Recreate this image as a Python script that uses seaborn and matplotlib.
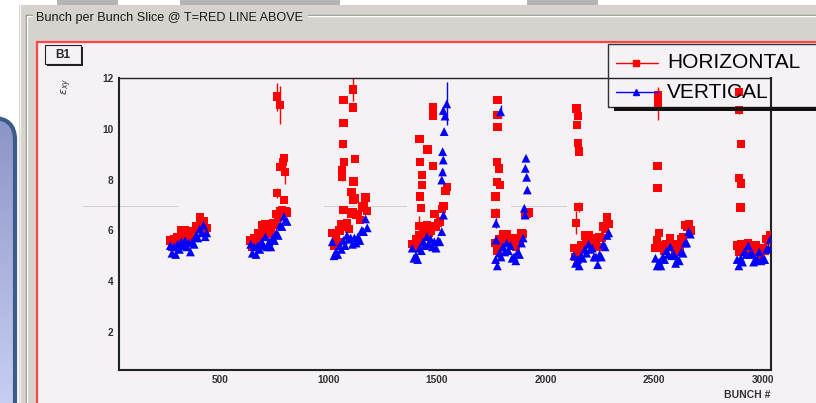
import numpy as np
import pandas as pd
import matplotlib
matplotlib.use("Agg")
import matplotlib.pyplot as plt
from matplotlib.patches import Rectangle, FancyBboxPatch
from matplotlib.lines import Line2D
from matplotlib.colors import LinearSegmentedColormap
from matplotlib.ticker import MultipleLocator
import seaborn as sns

# ---- data (bunch number, emittance) ----
t1_x = [272, 280, 289, 297, 306, 314, 323, 331, 340, 348, 357, 365, 374, 382, 391, 399, 408, 416, 425, 433, 440]
t1_h = [5.6, 5.35, 5.65, 5.4, 5.75, 5.6, 6.0, 5.75, 6.0, 5.7, 5.85, 5.6, 5.95, 5.9, 6.15, 6.05, 6.5, 6.25, 6.35, 6.0, 6.1]
t1_v = [5.4, 5.1, 5.35, 5.05, 5.45, 5.25, 5.55, 5.4, 5.6, 5.35, 5.5, 5.15, 5.55, 5.45, 5.8, 5.7, 6.05, 5.9, 6.2, 5.75, 5.9]

t2_x = [642, 650, 659, 667, 676, 684, 693, 701, 710, 718, 727, 735, 744, 752, 761, 769, 778, 786, 795, 803, 810]
t2_h = [5.6, 5.35, 5.7, 5.55, 5.9, 5.75, 6.2, 6.05, 6.25, 5.85, 6.05, 5.9, 6.3, 6.2, 6.65, 6.5, 6.75, 6.8, 7.2, 6.75, 6.7]
t2_v = [5.45, 5.1, 5.35, 5.05, 5.4, 5.25, 5.55, 5.4, 5.75, 5.35, 5.55, 5.35, 5.7, 5.6, 5.9, 5.8, 6.2, 6.15, 6.55, 6.4, 6.35]

t3_x = [1018, 1026, 1035, 1043, 1052, 1060, 1069, 1077, 1086, 1094, 1103, 1111, 1120, 1128, 1137, 1145, 1154, 1162, 1171, 1179]
t3_h = [5.9, 5.4, 5.7, 5.55, 6.0, 6.25, 6.8, 6.15, 6.3, 6.05, 6.65, 6.7, 7.25, 6.6, 6.65, 6.4, 6.9, 6.95, 7.3, 6.75]
t3_v = [5.55, 5.0, 5.15, 5.05, 5.4, 5.25, 5.6, 5.4, 5.8, 5.65, 5.7, 5.45, 5.7, 5.5, 5.75, 5.6, 6.0, 5.95, 6.45, 6.1]

t4_x = [1386, 1394, 1403, 1411, 1420, 1428, 1437, 1445, 1454, 1462, 1471, 1479, 1488, 1496, 1505, 1513, 1522, 1530, 1539, 1547]
t4_h = [5.45, 5.3, 5.65, 5.4, 5.8, 5.6, 6.0, 5.85, 6.2, 5.9, 6.0, 6.15, 6.65, 6.15, 6.3, 6.35, 6.85, 6.95, 7.55, 7.7]
t4_v = [5.3, 4.9, 5.0, 4.85, 5.3, 5.2, 5.55, 5.4, 5.75, 5.45, 5.65, 5.35, 5.55, 5.3, 5.6, 5.55, 5.95, 6.6]

t5_x = [1770, 1778, 1787, 1795, 1804, 1812, 1821, 1829, 1838, 1846, 1855, 1863, 1872, 1880, 1889, 1897, 1906, 1914, 1921]
t5_h = [5.5, 5.2, 5.65, 5.55, 5.85, 5.6, 5.85, 5.55, 5.7, 5.4, 5.55, 5.35, 5.7, 5.55, 5.9, 5.85, 6.6, 6.65, 6.7]
t5_v = [4.85, 4.6, 5.1, 4.95, 5.35, 5.15, 5.5, 5.2, 5.4, 4.9, 4.95, 4.8, 5.15, 5.05, 5.5, 5.7, 6.6]

t6_x = [2130, 2138, 2147, 2155, 2164, 2172, 2181, 2189, 2198, 2206, 2215, 2223, 2232, 2240, 2249, 2257, 2266, 2274, 2283, 2291]
t6_h = [5.3, 4.95, 5.1, 5.0, 5.4, 5.35, 5.8, 5.6, 5.8, 5.6, 5.7, 5.4, 5.6, 5.35, 5.75, 5.7, 6.15, 6.05, 6.5, 6.25]
t6_v = [5.0, 4.7, 4.85, 4.6, 5.0, 4.9, 5.25, 5.1, 5.45, 5.25, 5.3, 4.95, 4.95, 4.65, 5.05, 4.95, 5.45, 5.35, 5.8, 5.9]

t7_x = [2506, 2514, 2523, 2531, 2540, 2548, 2557, 2565, 2574, 2582, 2591, 2599, 2608, 2616, 2625, 2633, 2642, 2650, 2659, 2667]
t7_h = [5.3, 5.6, 5.9, 5.4, 5.4, 5.2, 5.45, 5.4, 5.7, 5.4, 5.45, 5.15, 5.3, 5.35, 5.65, 5.75, 6.2, 6.15, 6.25, 6.0]
t7_v = [4.9, 4.6, 4.75, 4.6, 4.95, 4.85, 5.2, 5.05, 5.35, 5.0, 5.05, 4.7, 4.85, 4.8, 5.15, 5.1, 5.5, 5.5, 5.95, 5.85]

t8_x = [2882, 2890, 2899, 2907, 2916, 2924, 2933, 2941, 2950, 2958, 2967, 2975, 2984, 2992, 3001, 3009, 3018, 3026, 3035]
t8_h = [5.4, 5.15, 5.45, 5.2, 5.35, 5.2, 5.5, 5.25, 5.4, 5.15, 5.4, 5.25, 5.3, 5.0, 5.3, 5.2, 5.65, 5.6, 5.8]
t8_v = [4.85, 4.6, 4.9, 4.75, 5.15, 5.05, 5.4, 5.05, 5.1, 4.75, 4.85, 4.85, 5.15, 4.8, 4.85, 4.85, 5.25, 5.3, 5.65]

# isolated points with visible error bars
h_out_x = [765, 777, 765, 780, 790, 797, 800,
           1112, 1069, 1112, 1069, 1066, 1123, 1071, 1064, 1063, 1115, 1107, 1112,
           1483, 1483, 1419, 1457, 1422, 1483, 1430, 1430, 1422, 1427, 1419,
           1779, 1779, 1779, 1775, 1786, 1775, 1790, 1770, 1770,
           2143, 2148, 2146, 2148, 2154, 2152, 2140,
           2519, 2519, 2516, 2516,
           2892, 2892, 2900, 2892, 2900, 2898]
h_out_y = [11.27, 10.94, 7.46, 8.5, 8.7, 8.84, 8.31,
           11.55, 11.13, 10.84, 10.24, 9.39, 8.8, 8.7, 8.38, 8.11, 7.92, 7.52, 7.2,
           10.84, 10.5, 9.59, 9.19, 8.7, 8.54, 8.18, 7.79, 7.33, 6.87, 6.17,
           11.13, 10.54, 10.08, 8.7, 8.44, 7.9, 7.79, 7.33, 6.67,
           10.8, 10.5, 10.15, 9.43, 9.1, 6.93, 6.3,
           11.33, 11.0, 8.54, 7.66,
           11.46, 10.74, 9.4, 8.05, 7.85, 6.9]
h_out_err = [0.55, 0.75, 0.2, 0.1, 0.15, 0.1, 0.5,
             0.45, 0.1, 0.15, 0.1, 0.15, 0.1, 0.1, 0.1, 0.15, 0.1, 0.1, 0.1,
             0.1, 0.1, 0.1, 0.1, 0.1, 0.1, 0.1, 0.1, 0.1, 0.1, 0.4,
             0.1, 0.1, 0.1, 0.1, 0.1, 0.1, 0.1, 0.15, 0.2,
             0.1, 0.1, 0.1, 0.1, 0.15, 0.2, 0.45,
             0.25, 0.65, 0.1, 0.1,
             0.1, 0.15, 0.1, 0.1, 0.1, 0.1]

v_out_x = [1545, 1529, 1537, 1533, 1526, 1529, 1526, 1522,
           1793, 1772, 1772, 1910, 1907, 1913, 1916, 1902]
v_out_y = [10.98, 10.72, 10.5, 9.89, 9.1, 8.77, 8.3, 7.98,
           10.67, 6.28, 5.62, 8.84, 8.44, 8.09, 7.59, 6.87]
v_out_err = [0.85, 0.15, 0.1, 0.1, 0.1, 0.1, 0.1, 0.1,
             0.25, 0.2, 0.1, 0.1, 0.1, 0.1, 0.1, 0.1]

x_ticks = [500, 1000, 1500, 2000, 2500, 3000]
y_ticks = [2, 4, 6, 8, 10, 12]

trains = [(t1_x, t1_h, t1_v), (t2_x, t2_h, t2_v), (t3_x, t3_h, t3_v), (t4_x, t4_h, t4_v),
          (t5_x, t5_h, t5_v), (t6_x, t6_h, t6_v), (t7_x, t7_h, t7_v), (t8_x, t8_h, t8_v)]

rows = []
for xs, hs, vs in trains:
    rows += [(x, y, "HORIZONTAL") for x, y in zip(xs, hs)]
rows += [(x, y, "HORIZONTAL") for x, y in zip(h_out_x, h_out_y)]
for xs, hs, vs in trains:
    rows += [(x, y, "VERTICAL") for x, y in zip(xs, vs)]
rows += [(x, y, "VERTICAL") for x, y in zip(v_out_x, v_out_y)]
df = pd.DataFrame(rows, columns=["bunch", "emit", "plane"])

# ---- figure / screenshot chrome ----
sns.set_style("white")
plt.rcParams["font.family"] = ["Liberation Sans", "DejaVu Sans"]

W, H = 816, 403
fig = plt.figure(figsize=(W / 100, H / 100), dpi=100)
fig.patch.set_facecolor("white")

def fx(x):
    return x / W

def fy(y):
    return 1 - y / H

def box(x0, y0, x1, y1, **kw):
    r = Rectangle((fx(x0), fy(y1)), (x1 - x0) / W, (y1 - y0) / H,
                  transform=fig.transFigure, **kw)
    fig.add_artist(r)

def seg(xs, ys, **kw):
    fig.add_artist(Line2D([fx(v) for v in xs], [fy(v) for v in ys],
                          transform=fig.transFigure, **kw))

panel = "#d6d3ce"
canvas = "#f5f1f5"

# tabs at very top
for a, b in [(57, 118), (180, 340), (527, 598)]:
    box(a, -2, b, 5, color="#b4b4b4", lw=0, zorder=-10)
box(19, 5, 820, 410, color=panel, lw=0, zorder=-10)
seg([20, 20], [5, 403], color="#f2f1ee", lw=1, zorder=-9)
# etched group frame
seg([26, 830], [15, 15], color="#8e8c88", lw=1, zorder=-9)
seg([27, 830], [16, 16], color="white", lw=1, zorder=-9)
seg([26, 26], [15, 410], color="#8e8c88", lw=1, zorder=-9)
seg([27, 27], [16, 410], color="white", lw=1, zorder=-9)
box(33, 8, 308, 25, color=panel, lw=0, zorder=-8)
fig.text(fx(36), fy(18), "Bunch per Bunch Slice @ T=RED LINE ABOVE", fontsize=9.1,
         color="#1a1a1a", va="center", ha="left", zorder=-7)

# canvas with red border
box(37, 42, 840, 420, facecolor=canvas, edgecolor="#ff4545", lw=1.6, zorder=-6)

# faint grey streak
for a, b in [(83, 177), (324, 406), (511, 566)]:
    seg([a, b], [206, 206], color="#d4d0d4", lw=0.8, zorder=-5)

# B1 pad label
box(47, 47, 83, 66, color="#222222", lw=0, zorder=-5)
box(45, 45, 81, 64, facecolor=canvas, edgecolor="#222222", lw=0.8, zorder=-4)
fig.text(fx(63), fy(55), "B1", fontsize=8.5, fontweight="bold", ha="center", va="center", zorder=-3)

# blue rounded window on the left edge
gax = fig.add_axes([0, fy(403), 20 / W, (403 - 108) / H], zorder=-1)
gax.set_xlim(0, 20)
gax.set_ylim(403, 108)
gax.axis("off")
cmap = LinearSegmentedColormap.from_list("g", ["#8a92c6", "#c6cff2"])
im = gax.imshow(np.linspace(0, 1, 256).reshape(-1, 1), extent=(0, 20, 403, 108),
                cmap=cmap, aspect="auto")
shape = FancyBboxPatch((-40, 118), 55, 330, boxstyle="round,pad=0,rounding_size=22",
                       transform=gax.transData, facecolor="none", edgecolor="#3b5c88", lw=3)
gax.add_patch(shape)
im.set_clip_path(shape)

# ---- the plot ----
ax = fig.add_axes([fx(119), fy(370), (771 - 119) / W, (370 - 78) / H])
ax.set_facecolor("none")

ax.errorbar(h_out_x, h_out_y, yerr=h_out_err, fmt="none", ecolor="red", elinewidth=1, zorder=2)
ax.errorbar(v_out_x, v_out_y, yerr=v_out_err, fmt="none", ecolor="blue", elinewidth=1, zorder=2)
sns.scatterplot(data=df, x="bunch", y="emit", hue="plane", style="plane", size="plane",
                palette={"HORIZONTAL": "red", "VERTICAL": "blue"},
                markers={"HORIZONTAL": "s", "VERTICAL": "^"},
                sizes={"HORIZONTAL": 36, "VERTICAL": 40},
                linewidth=0, legend=False, ax=ax, zorder=3)

ax.set_xlim(36, 3038)
ax.set_ylim(0.5, 12)
ax.set_xticks(x_ticks)
ax.set_yticks(y_ticks)
ax.xaxis.set_minor_locator(MultipleLocator(100))
ax.yaxis.set_minor_locator(MultipleLocator(0.5))
ax.set_xlabel("")
ax.set_ylabel("")
ax.tick_params(axis="y", which="major", direction="in", length=13.5, width=1.1,
               color="#222222", labelsize=7.3, labelcolor="#333333", pad=4)
ax.tick_params(axis="y", which="minor", direction="in", length=7, width=1.1, color="#222222")
ax.tick_params(axis="x", which="major", direction="in", length=6.5, width=1.1,
               color="#222222", labelsize=7.3, labelcolor="#333333", pad=3.5)
ax.tick_params(axis="x", which="minor", direction="in", length=3.6, width=1.1, color="#222222")
for lbl in ax.get_xticklabels() + ax.get_yticklabels():
    lbl.set_fontweight("bold")
for side in ["left", "bottom", "right"]:
    ax.spines[side].set_color("#222222")
    ax.spines[side].set_linewidth(1.5)
ax.spines["top"].set_color("#222222")
ax.spines["top"].set_linewidth(1.0)

fig.text(fx(770), fy(395), "BUNCH #", fontsize=7.5, fontweight="bold", color="#333333",
         ha="right", va="center")
fig.text(fx(67), fy(86), r"$\epsilon_{xy}$", fontsize=8, color="#333333",
         rotation=90, ha="center", va="center")

# ---- ROOT style legend ----
box(608, 44, 840, 107, facecolor="none", edgecolor="#333333", lw=1, zorder=5)
box(614, 107, 840, 111, color="#111111", lw=0, zorder=5)
for yy, col, mk, label in [(63, "red", "s", "HORIZONTAL"), (92, "blue", "^", "VERTICAL")]:
    seg([616, 658], [yy, yy], color=col, lw=1, zorder=6)
    fig.add_artist(Line2D([fx(636)], [fy(yy)], marker=mk, ms=4.5, color=col, lw=0,
                          transform=fig.transFigure, zorder=6))
    fig.text(fx(667), fy(yy), label, fontsize=15, color="black", ha="left", va="center", zorder=6)

fig.savefig("out.png", dpi=100)
